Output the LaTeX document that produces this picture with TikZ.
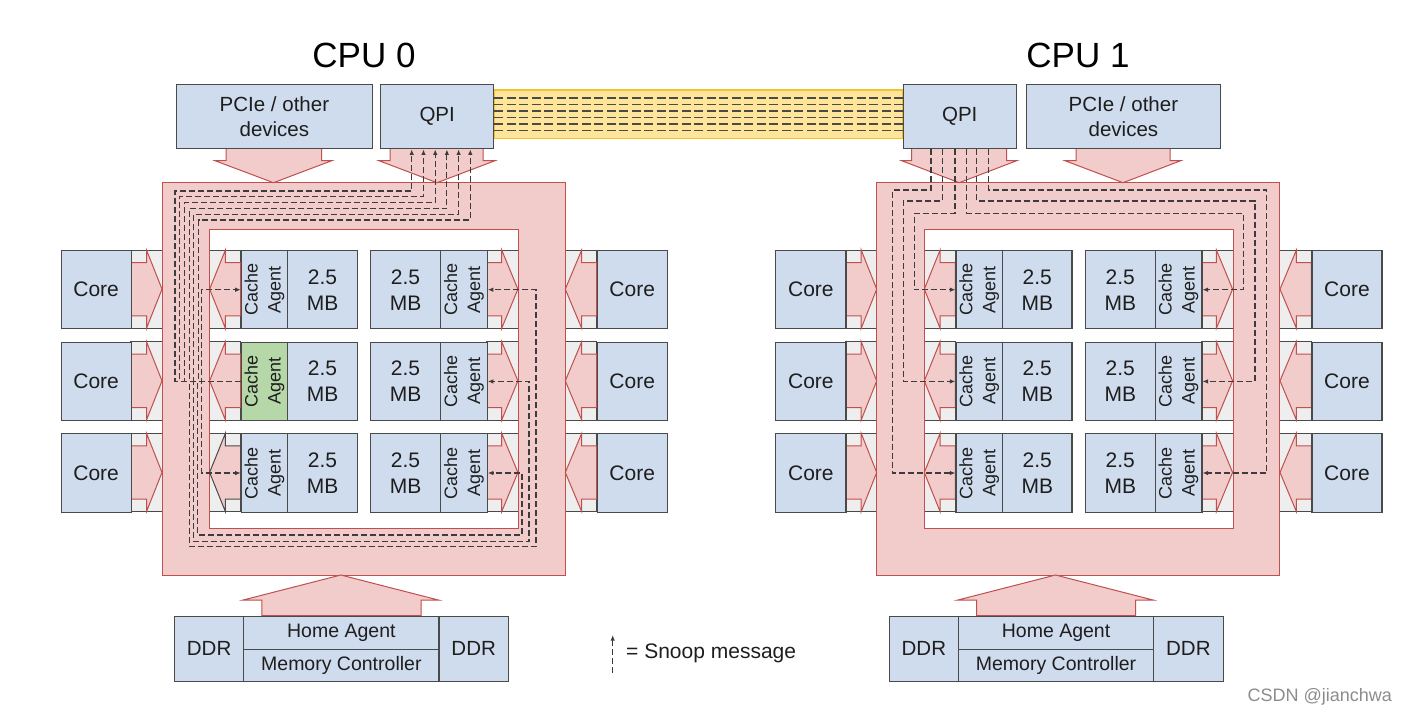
\documentclass[tikz,border=0pt]{standalone}
\usepackage{fontspec}
\setmainfont{Liberation Sans}
\usetikzlibrary{arrows.meta,backgrounds}
\definecolor{boxblue}{HTML}{CFDCEE}
\definecolor{boxline}{HTML}{4A4A4A}
\definecolor{pink1}{HTML}{F2CBCB}
\definecolor{redline}{HTML}{C0504D}
\definecolor{bandgrey}{HTML}{EEEEEE}
\definecolor{cagreen}{HTML}{B6D7A8}
\definecolor{linkfill}{HTML}{FFE599}
\definecolor{linkline}{HTML}{F1C232}
\definecolor{snoopc}{HTML}{3C3C3C}
\definecolor{txt}{HTML}{1E1E1E}
\tikzset{
 box/.style={draw=boxline, fill=boxblue, line width=1.1pt, inner sep=0pt, text=txt, anchor=north west},
 band/.style={fill=bandgrey, draw=boxline, line width=1pt},
 pinkshape/.style={fill=pink1, draw=redline, line width=1pt},
 snoop/.style={draw=snoopc, line width=1.1pt, dash pattern=on 6pt off 3pt},
 snooparrow/.style={snoop, -{Latex[length=5.5pt,width=4.5pt]}},
 linkdash/.style={draw=boxline, line width=1.3pt, dash pattern=on 9pt off 3.5pt},
 f21/.style={font=\fontsize{21}{26}\selectfont},
 f20/.style={font=\fontsize{20.5}{24.5}\selectfont},
 f18/.style={font=\fontsize{18}{23}\selectfont},
 f19/.style={font=\fontsize{19.5}{23}\selectfont},
}
% #1 prefix, #2 xshift, #3 fill of row-2 left agent, #4 outline of row-3 left agent arrow
\newcommand{\cpuparts}[4]{%
\begin{scope}[xshift=#2pt]
 \foreach \tp in {250,341.7,433.3}{
   \draw[band] (130.7,\tp) rectangle (240.7,\tp+78.3);
   \draw[band] (486.7,\tp) rectangle (596.7,\tp+78.3);
 }
 \fill[pink1, even odd rule] (162,182.7) rectangle (565,575) (209.3,229.3) rectangle (518.3,528);
 \draw[redline, line width=1pt] (162,182.7) rectangle (565,575) (209.3,229.3) rectangle (518.3,528);
 \foreach \rr/\tp in {1/250,2/341.7,3/433.3}{
   \ifnum\rr=3 \def\arrline{#4}\else\def\arrline{redline}\fi
   \ifnum\rr=2 \def\cafill{#3}\else\def\cafill{boxblue}\fi
   \draw[pinkshape] (130.7,\tp+12.5) -- (146.5,\tp+12.5) -- (146.5,\tp) -- (162,\tp+39.15) -- (146.5,\tp+78.3) -- (146.5,\tp+65.8) -- (130.7,\tp+65.8) -- cycle;
   \draw[pinkshape, draw=\arrline] (240.7,\tp+12.5) -- (225.4,\tp+12.5) -- (225.4,\tp) -- (209.6,\tp+39.15) -- (225.4,\tp+78.3) -- (225.4,\tp+65.8) -- (240.7,\tp+65.8) -- cycle;
   \draw[pinkshape] (486.7,\tp+12.5) -- (501.7,\tp+12.5) -- (501.7,\tp) -- (517.9,\tp+39.15) -- (501.7,\tp+78.3) -- (501.7,\tp+65.8) -- (486.7,\tp+65.8) -- cycle;
   \draw[pinkshape] (596.7,\tp+12.5) -- (581.7,\tp+12.5) -- (581.7,\tp) -- (565.3,\tp+39.15) -- (581.7,\tp+78.3) -- (581.7,\tp+65.8) -- (596.7,\tp+65.8) -- cycle;
   \node[box, f21, minimum width=70.2pt, minimum height=78.3pt] (#1coreL\rr) at (60.5,\tp) {Core};
   \node[box, f18, fill=\cafill, minimum width=46.6pt, minimum height=78.3pt] (#1caL\rr) at (240.7,\tp) {\rotatebox{90}{\begin{tabular}{@{}c@{}}Cache\\Agent\end{tabular}}};
   \node[box, f21, align=center, minimum width=69.4pt, minimum height=78.3pt] (#1mbL\rr) at (287.3,\tp) {2.5\\MB};
   \node[box, f21, align=center, minimum width=70pt, minimum height=78.3pt] (#1mbR\rr) at (370,\tp) {2.5\\MB};
   \node[box, f18, minimum width=46.7pt, minimum height=78.3pt] (#1caR\rr) at (440,\tp) {\rotatebox{90}{\begin{tabular}{@{}c@{}}Cache\\Agent\end{tabular}}};
   \node[box, f21, minimum width=70pt, minimum height=78.3pt] (#1coreR\rr) at (596.7,\tp) {Core};
 }
 \draw[pinkshape] (261.9,615.7) -- (261.9,600) -- (243.2,600) -- (340.8,575) -- (438.4,600) -- (421,600) -- (421,615.7) -- cycle;
 \node[box, f20, minimum width=69.2pt, minimum height=65.3pt] (#1ddrL) at (174,615.7) {DDR};
 \node[box, f19, minimum width=195.2pt, minimum height=33.3pt] (#1ha) at (243.2,615.7) {Home Agent};
 \node[box, f19, minimum width=195.2pt, minimum height=32pt] (#1mc) at (243.2,649) {Memory Controller};
 \node[box, f20, minimum width=69.4pt, minimum height=65.3pt] (#1ddrR) at (438.4,615.7) {DDR};
\end{scope}}

\begin{document}
\begin{tikzpicture}[x=1pt,y=-1pt]
\useasboundingbox (0,0) rectangle (1408,716);

\cpuparts{c0}{0}{cagreen}{boxline}
\cpuparts{c1}{714.7}{boxblue}{redline}

% down arrows from top boxes
\draw[pinkshape] (226,148.3) -- (226,160.7) -- (215,160.7) -- (273.5,182.7) -- (331.7,160.7) -- (321.7,160.7) -- (321.7,148.3) -- cycle;
\draw[pinkshape] (390,148.3) -- (390,160.7) -- (379,160.7) -- (437,182.7) -- (495,160.7) -- (483,160.7) -- (483,148.3) -- cycle;
\draw[pinkshape] (911.7,148.3) -- (911.7,160.7) -- (901.7,160.7) -- (959.2,182.7) -- (1016.7,160.7) -- (1006.7,160.7) -- (1006.7,148.3) -- cycle;
\draw[pinkshape] (1076,148.3) -- (1076,160.7) -- (1065,160.7) -- (1123,182.7) -- (1180.7,160.7) -- (1170,160.7) -- (1170,148.3) -- cycle;

% top boxes
\node[box, f20, align=center, minimum width=195.7pt, minimum height=64.3pt] (c0pcie) at (176,84) {PCIe / other\\devices};
\node[box, f20, minimum width=113.3pt, minimum height=64.3pt] (c0qpi) at (380,84) {QPI};
\node[box, f20, minimum width=113pt, minimum height=64.3pt] (c1qpi) at (902.7,84) {QPI};
\node[box, f20, align=center, minimum width=194.3pt, minimum height=64.3pt] (c1pcie) at (1025.7,84) {PCIe / other\\devices};

% QPI link
\begin{pgfonlayer}{background}
\draw[fill=linkfill, draw=linkline, line width=1.3pt] (c0qpi.east |- 0,90) rectangle (c1qpi.west |- 0,138.3);
\foreach \yy in {98,104.5,111,117.5,124,130.5}
  \draw[linkdash] (c0qpi.east |- 0,\yy) -- (c1qpi.west |- 0,\yy);
\end{pgfonlayer}

% titles
\node[font=\fontsize{35}{40}\selectfont, text=black] (t0) at (364,55) {CPU 0};
\node[font=\fontsize{35}{40}\selectfont, text=black] (t1) at (1078,55) {CPU 1};

% snoops CPU 0 (from the green cache agent)
\foreach \xx/\yy/\qq in {175/191/411.7, 179.7/196.8/423.5, 184.4/202.6/435.2, 189.1/208.4/446.9, 193.8/214.2/458.6, 198.5/220/470.3}
  \draw[snooparrow] (c0caL2.west) -| (\xx,\yy) -| (c0qpi.south -| \qq,0);
\draw[snooparrow] (c0caL2.west) -| (201.7,0 |- c0caL1.west) -- (c0caL1.west);
\draw[snooparrow] (c0caL2.west) -| (201.7,0 |- c0caL3.west) -- (c0caL3.west);
\draw[snooparrow] (c0caL2.west) -| (189.3,546.7) -| (536,0 |- c0caR1.east) -- (c0caR1.east);
\draw[snooparrow] (c0caL2.west) -| (193.3,541.7) -| (529,0 |- c0caR2.east) -- (c0caR2.east);
\draw[snooparrow] (c0caL2.west) -| (197.7,535) -| (522,0 |- c0caR3.east) -- (c0caR3.east);

% snoops CPU 1 (from QPI)
\draw[snooparrow] (c1qpi.south -| 931,0) |- (892.3,190) |- (c1caL3.west);
\draw[snooparrow] (c1qpi.south -| 942.7,0) |- (903.3,201) |- (c1caL2.west);
\draw[snooparrow] (c1qpi.south -| 955,0) |- (914.3,213.3) |- (c1caL1.west);
\draw[snooparrow] (c1qpi.south -| 966.7,0) |- (1243.3,213.3) |- (c1caR1.east);
\draw[snooparrow] (c1qpi.south -| 976.7,0) |- (1255,201) |- (c1caR2.east);
\draw[snooparrow] (c1qpi.south -| 988.3,0) |- (1266.7,190) |- (c1caR3.east);

% legend
\coordinate (legb) at (612.7,673);
\coordinate (legt) at (612.7,635);
\draw[snooparrow] (legb) -- (legt);
\node[anchor=west, font=\fontsize{21}{25}\selectfont, text=txt, inner sep=0pt] (legtext) at (626,653) {= Snoop message};

% watermark
\node[font=\fontsize{18}{22}\selectfont, text=black!45, inner sep=0pt] (wm) at (1319.7,696.7) {CSDN @jianchwa};
\end{tikzpicture}
\end{document}
